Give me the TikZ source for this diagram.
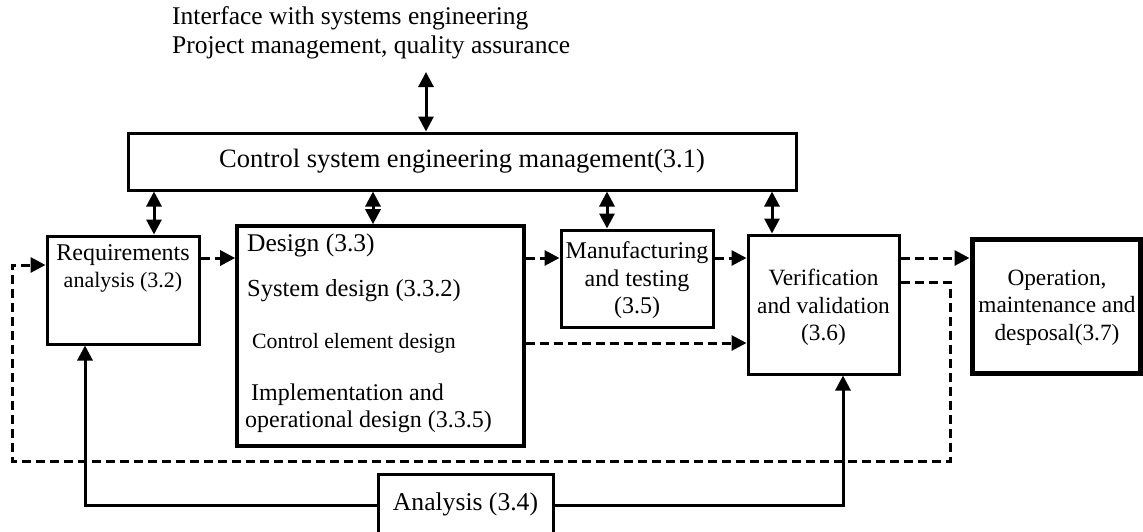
\documentclass[tikz,border=0pt]{standalone}
\usepackage{fontspec}
\setmainfont{Liberation Serif}
\usetikzlibrary{arrows.meta}
\begin{document}
\begin{tikzpicture}[x=1pt,y=-1pt,
  box/.style={draw, line width=3pt, inner sep=0pt},
  txt/.style={inner sep=0pt, align=center},
  ln/.style={line width=3pt},
  dsh/.style={line width=3pt, dash pattern=on 9pt off 5pt},
  tip/.style={-{Triangle[length=15pt,width=15pt]}},
  dtip/.style={{Triangle[length=15pt,width=15pt]}-{Triangle[length=15pt,width=15pt]}},
  f26/.style={font=\fontsize{26.5}{30}\selectfont},
  f24/.style={font=\fontsize{24}{27.5}\selectfont},
  f23/.style={font=\fontsize{23.3}{27.5}\selectfont},
  f22/.style={font=\fontsize{22}{26}\selectfont},
  f21/.style={font=\fontsize{21.8}{25}\selectfont},
]
\useasboundingbox (0,0) rectangle (1143,531);

% top text
\node[txt, anchor=west, font=\fontsize{25.5}{29}\selectfont] (if1) at (172,18) {Interface with systems engineering};
\node[txt, anchor=west, font=\fontsize{25.5}{29}\selectfont] (if2) at (172,47) {Project management, quality assurance};

% boxes
\node[box, f26, minimum width=668pt, minimum height=57pt] (ctrl) at (462,161.5) {Control system engineering management(3.1)};
\node[box, minimum width=152pt, minimum height=108pt] (req) at (123,290) {};
\node[box, line width=3.6pt, minimum width=287pt, minimum height=220pt] (des) at (380.5,336) {};
\node[box, minimum width=152pt, minimum height=97pt] (man) at (637,278.5) {};
\node[box, minimum width=151pt, minimum height=139pt] (vv) at (823.5,304.5) {};
\node[box, line width=5pt, minimum width=168pt, minimum height=134pt] (op) at (1056,306) {};
\node[box, font=\fontsize{25.6}{29}\selectfont, minimum width=175pt, minimum height=60pt] (ana) at (465.5,504) {Analysis (3.4)};

% box texts
\node[txt, f24] (req1) at (123,255) {Requirements};
\node[txt, f22] (req2) at (123,282) {analysis (3.2)};
\node[txt, font=\fontsize{25.5}{29}\selectfont, anchor=west] (d1) at (247,245) {Design (3.3)};
\node[txt, font=\fontsize{24.5}{28}\selectfont, anchor=west] (d2) at (247,291) {System design (3.3.2)};
\node[txt, f21, anchor=west] (d3) at (252,343) {Control element design};
\node[txt, f24, anchor=west] (d4) at (251,395) {Implementation and};
\node[txt, f24, anchor=west] (d5) at (245,422) {operational design (3.3.5)};
\node[txt, f24] (mant) at (637,280.5) {Manufacturing\\and testing\\(3.5)};
\node[txt, f23] (vvt) at (823.5,307.5) {Verification\\and validation\\(3.6)};
\node[txt, f23] (opt) at (1057,307.5) {Operation,\\maintenance and\\desposal(3.7)};

% helper coordinates
\coordinate (ifa) at (426,72);
\coordinate (a1) at (154,0);
\coordinate (a2) at (373,0);
\coordinate (a3) at (607,0);
\coordinate (a4) at (772,0);
\coordinate (y258) at (0,258);
\coordinate (y343) at (0,343);
\coordinate (y282) at (0,282);
\coordinate (y265) at (0,265);
\coordinate (y505) at (0,505);
\coordinate (lp1) at (950,282);
\coordinate (lp2) at (950,461);
\coordinate (lp3) at (12,461);
\coordinate (lp4) at (12,265);
\coordinate (s1) at (85,505);
\coordinate (s2) at (843,505);

% management arrows
\draw[ln, dtip] (ifa) -- (ifa |- ctrl.north);
\draw[ln, dtip] (ctrl.south -| a1) -- (req.north -| a1);
\draw[ln, dtip] (ctrl.south -| a2) -- (des.north -| a2);
\draw[ln, dtip] (ctrl.south -| a3) -- (man.north -| a3);
\draw[ln, dtip] (ctrl.south -| a4) -- (vv.north -| a4);

% dashed flow
\draw[dsh, tip] (req.east |- y258) -- (des.west |- y258);
\draw[dsh, tip] (des.east |- y258) -- (man.west |- y258);
\draw[dsh, tip] (man.east |- y258) -- (vv.west |- y258);
\draw[dsh, tip] (vv.east |- y258) -- (op.west |- y258);
\draw[dsh, tip] (des.east |- y343) -- (vv.west |- y343);
\draw[dsh, tip] (vv.east |- y282) -- (lp1) -- (lp2) -- (lp3) -- (lp4) -- (req.west |- y265);

% analysis feedback
\draw[ln, tip] (ana.west |- y505) -- (s1) -- (req.south -| s1);
\draw[ln, tip] (ana.east |- y505) -- (s2) -- (vv.south -| s2);
\end{tikzpicture}
\end{document}
